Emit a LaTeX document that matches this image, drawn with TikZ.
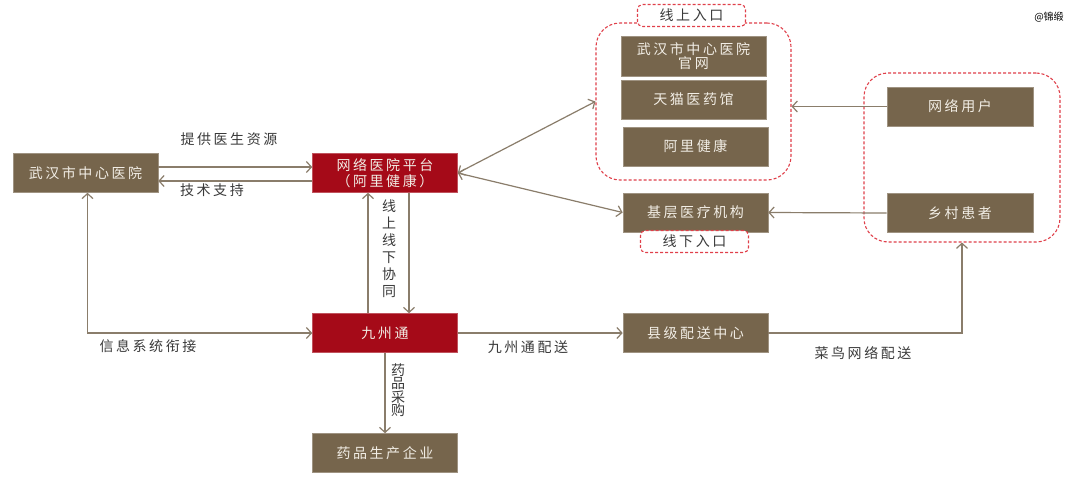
\documentclass[tikz,border=0pt]{standalone}
\usepackage{fontspec}
\setmainfont{Noto Sans CJK SC}
\newfontfamily\cjks[LetterSpace=18]{Noto Sans CJK SC}
\newfontfamily\cjkn{Noto Sans CJK SC}
\usetikzlibrary{arrows.meta,calc}
\definecolor{brownc}{HTML}{76654C}
\definecolor{redc}{HTML}{A50A18}
\definecolor{linec}{HTML}{8A7D6B}
\definecolor{dashc}{HTML}{E0404A}
\definecolor{txtc}{HTML}{F2EEE6}
\definecolor{labc}{HTML}{3A3A3A}
\tikzset{
  bbox/.style={fill=brownc, draw=brownc!70!white, line width=0.6pt, text=txtc, minimum width=145pt, minimum height=39pt, inner sep=0pt, align=center},
  rbox/.style={bbox, fill=redc, draw=redc!70!white},
  spc/.style={font=\cjks\fontsize{14}{15}\selectfont},
  conn/.style={draw=linec, line width=1.2pt, arrows={-{Straight Barb[length=5pt,width=11pt]}}},
  dconn/.style={conn, arrows={{Straight Barb[length=5pt,width=11pt]}-{Straight Barb[length=5pt,width=11pt]}}},
  grp/.style={draw=dashc, line width=1.1pt, dash pattern=on 3pt off 2pt, rounded corners=24pt, inner sep=0pt},
  tag/.style={draw=dashc, line width=1.1pt, dash pattern=on 3pt off 2pt, rounded corners=5pt, fill=white, minimum width=108pt, minimum height=22pt, inner sep=0pt, text=labc, font=\cjks\fontsize{14}{15}\selectfont},
  lab/.style={text=labc, inner sep=0pt}
}
\begin{document}
\begin{tikzpicture}[x=1pt,y=-1pt]
\useasboundingbox (0,0) rectangle (1080,480);
\fill[white] (0,0) rectangle (1080,480);

% dashed groups
\node[grp, minimum width=195pt, minimum height=157pt] (online) at (693.5,101.5) {};
\node[grp, minimum width=196pt, minimum height=169pt] (rgrp) at (962,157.5) {};

% boxes
\node[bbox, spc] (whh) at (85.5,173) {武汉市中心医院};
\node[rbox, spc, font=\cjks\fontsize{14}{16}\selectfont] (wy) at (385,173) {网络医院平台\\（阿里健康）};
\node[rbox, spc] (jzt) at (385,333) {九州通};
\node[bbox, spc] (yp) at (385,453) {药品生产企业};
\node[bbox, spc] (xj) at (695.5,333) {县级配送中心};

\node[bbox, spc, minimum height=40pt, font=\cjks\fontsize{14}{14.5}\selectfont] (gw) at (693.5,56) {武汉市中心医院\\官网};
\node[bbox, spc] (tm) at (693.5,99.5) {天猫医药馆};
\node[bbox, spc] (al) at (695.5,146.5) {阿里健康};
\node[bbox, spc] (jc) at (695.5,212.5) {基层医疗机构};
\node[bbox, spc, minimum width=146pt] (wl) at (960,106.5) {网络用户};
\node[bbox, spc, minimum width=146pt] (xc) at (960,213) {乡村患者};

\node[tag] (tagon) at (691.5,15.5) {线上入口};
\node[tag] (tagoff) at (694.5,241.5) {线下入口};

% connectors
\draw[conn] ([yshift=6pt]whh.east) -- ([yshift=6pt]wy.west);
\draw[conn] ([yshift=-8pt]wy.west) -- ([yshift=-8pt]whh.east);
\draw[conn] ([xshift=-17pt]jzt.north) -- ([xshift=-17pt]wy.south);
\draw[conn] ([xshift=24pt]wy.south) -- ([xshift=24pt]jzt.north);
\draw[dconn] (wy.east) -- (online.west);
\draw[dconn] (wy.east) -- (jc.west);
\draw[dconn] (jzt.west) -| ([xshift=2pt]whh.south);
\draw[conn] (jzt.east) -- (xj.west);
\draw[conn] (jzt.south) -- (yp.north);
\draw[conn] (xj.east) -| (rgrp.south);
\draw[conn] (wl.west) -- (wl.west -| online.east);
\draw[conn] (xc.west) -- (jc.east);

% labels
\node[lab, spc] (l1) at (229,139) {提供医生资源};
\node[lab, spc] (l2) at (212,190) {技术支持};
\node[lab, font=\cjkn\fontsize{14}{17}\selectfont, align=center] (l3) at (389,249) {线\\上\\线\\下\\协\\同};
\node[lab, spc] (l4) at (148,346) {信息系统衔接};
\node[lab, spc] (l5) at (528,347) {九州通配送};
\node[lab, spc] (l6) at (863,353) {菜鸟网络配送};
\node[lab, font=\cjkn\fontsize{14}{13.5}\selectfont, align=center] (l7) at (398,390) {药\\品\\采\\购};
\node[lab, font=\cjkn\fontsize{10}{11}\selectfont, text=black] (wm) at (1049,17) {@锦缎};
\end{tikzpicture}
\end{document}
